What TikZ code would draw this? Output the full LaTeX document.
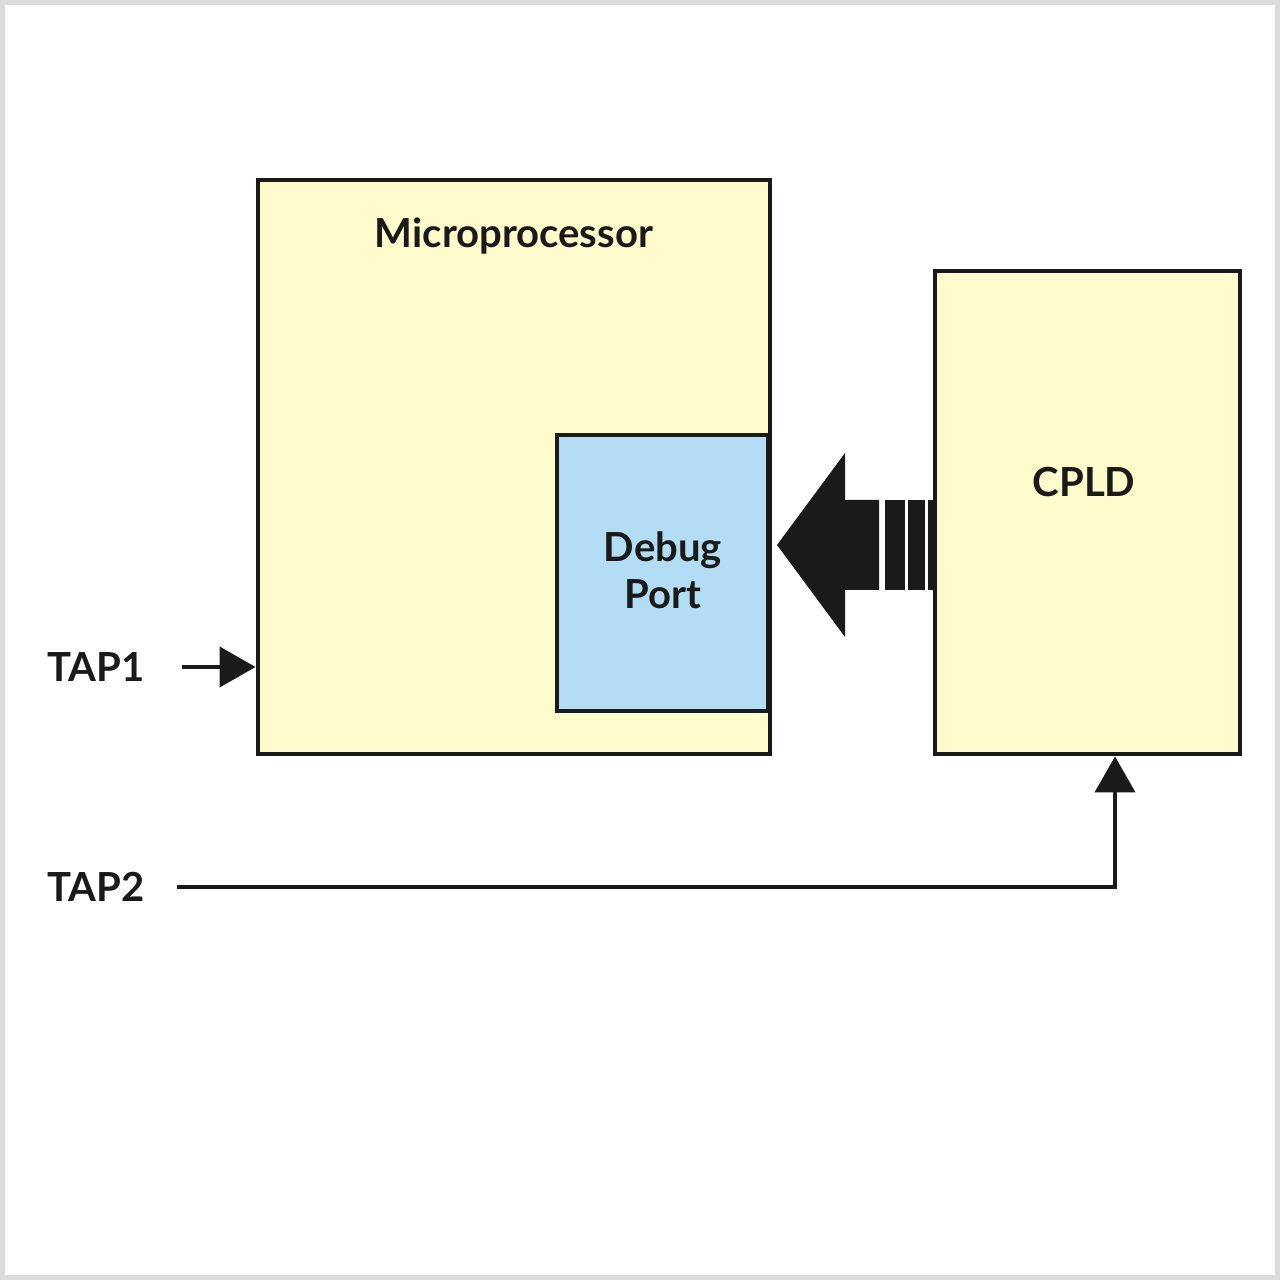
\documentclass[tikz,border=0pt]{standalone}
\usepackage{fontspec}
\setmainfont{Lato}
\usetikzlibrary{arrows.meta,positioning}
\definecolor{chipyellow}{HTML}{FFFBCC}
\definecolor{portblue}{HTML}{B3DDF4}
\definecolor{framegray}{HTML}{DCDCDC}
\definecolor{ink}{HTML}{1A1A1A}
\begin{document}
\begin{tikzpicture}[
  box/.style={rectangle, draw=ink, line width=1.4pt, inner sep=0pt},
  lbl/.style={font=\bfseries\fontsize{11.4}{13.4}\selectfont, text=ink, align=center},
  sig/.style={draw=ink, line width=1.2pt, -{Triangle[length=3.6mm,width=4mm]}}
]
\useasboundingbox (0,0) rectangle (12.8,-12.8);
\draw[framegray, line width=0.05cm] (0.025,-0.025) rectangle (12.775,-12.775);

% blocks
\node[box, fill=chipyellow, minimum width=5.12cm, minimum height=5.74cm] (mp) at (5.14,-4.67) {};
\node[box, fill=portblue, minimum width=2.11cm, minimum height=2.76cm] (dbg) at (6.625,-5.73) {};
\node[box, fill=chipyellow, minimum width=3.05cm, minimum height=4.83cm] (cpld) at (10.875,-5.125) {};

\node[lbl] (mplabel) at (5.14,-2.36) {Microprocessor};
\node[lbl] (dbglabel) at (6.63,-5.70) {Debug\\Port};
\node[lbl] (cpldlabel) at (10.84,-4.82) {CPLD};
\node[lbl, inner sep=0pt, anchor=west] (tap1) at (0.47,-6.67) {TAP1};
\node[lbl, inner sep=0pt, anchor=west] (tap2) at (0.47,-8.87) {TAP2};

% bus arrow from CPLD into the debug port
\coordinate (tip) at (7.77,-5.45);
\fill[ink] (tip) -- ++(0.68,0.92) -- ++(0,-0.47) -- ++(0.34,0) -- ++(0,-0.9)
  -- ++(-0.34,0) -- ++(0,-0.47) -- cycle;
\foreach \a/\b in {8.85/9.05, 9.08/9.25, 9.28/9.35}
  \fill[ink] (\a,-5.0) rectangle (\b,-5.9);

\draw[sig] ([xshift=3.7mm]tap1.east) -- (tap1 -| mp.west);
\draw[sig] ([xshift=3.2mm]tap2.east) -| ([xshift=2.75mm]cpld.south);
\end{tikzpicture}
\end{document}
